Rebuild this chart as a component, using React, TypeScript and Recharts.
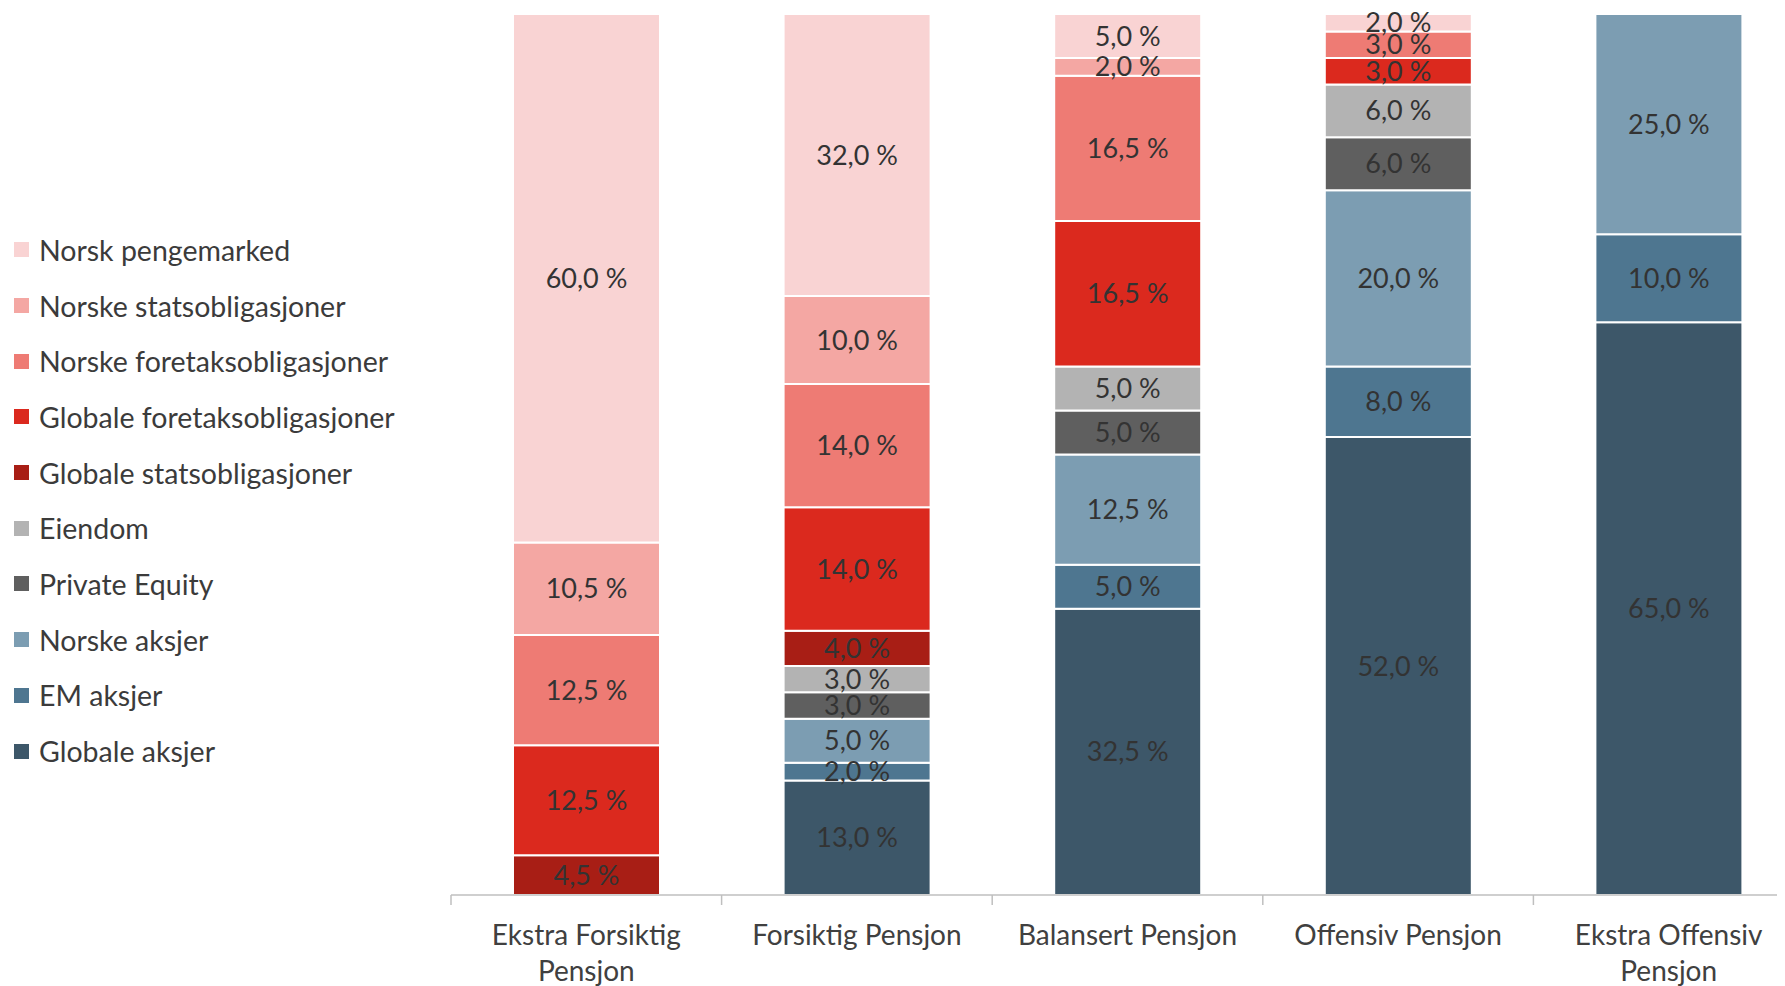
import React from "react"
import { BarChart, Bar, XAxis, YAxis, LabelList } from "recharts"

const categories = [
  "Ekstra Forsiktig Pensjon",
  "Forsiktig Pensjon",
  "Balansert Pensjon",
  "Offensiv Pensjon",
  "Ekstra Offensiv Pensjon",
]

// series, listed bottom of stack first
const globaleAksjer = [0, 13, 32.5, 52, 65]
const emAksjer = [0, 2, 5, 8, 10]
const norskeAksjer = [0, 5, 12.5, 20, 25]
const privateEquity = [0, 3, 5, 6, 0]
const eiendom = [0, 3, 5, 6, 0]
const globaleStats = [4.5, 4, 0, 0, 0]
const globaleForetak = [12.5, 14, 16.5, 3, 0]
const norskeForetak = [12.5, 14, 16.5, 3, 0]
const norskeStats = [10.5, 10, 2, 0, 0]
const norskPengemarked = [60, 32, 5, 2, 0]

const series = [
  { key: "ga", name: "Globale aksjer", values: globaleAksjer, color: "#3D5769" },
  { key: "em", name: "EM aksjer", values: emAksjer, color: "#4E7690" },
  { key: "na", name: "Norske aksjer", values: norskeAksjer, color: "#7C9DB2" },
  { key: "pe", name: "Private Equity", values: privateEquity, color: "#5F5F5F" },
  { key: "ei", name: "Eiendom", values: eiendom, color: "#B3B3B3" },
  { key: "gs", name: "Globale statsobligasjoner", values: globaleStats, color: "#A81E15" },
  { key: "gf", name: "Globale foretaksobligasjoner", values: globaleForetak, color: "#DB291E" },
  { key: "nf", name: "Norske foretaksobligasjoner", values: norskeForetak, color: "#EE7B74" },
  { key: "ns", name: "Norske statsobligasjoner", values: norskeStats, color: "#F4A7A3" },
  { key: "np", name: "Norsk pengemarked", values: norskPengemarked, color: "#F9D3D3" },
]

const data = categories.map((c, i) => {
  const row: Record<string, any> = { name: c }
  series.forEach((s) => (row[s.key] = s.values[i]))
  return row
})

const FONT = "Lato, 'Open Sans', sans-serif"
const W = 1796
const H = 978
const AXIS_H = 91
const M = { top: 6, right: 0, left: 443, bottom: 0 }
const AXIS_Y = H - AXIS_H
const BAND = (W - M.left - M.right) / categories.length

const fmt = (v: any) => (v ? `${Number(v).toFixed(1).replace(".", ",")} %` : "")

function Tick(props: any) {
  const { x, payload } = props
  const words = String(payload.value).split(" ")
  const lines = words.length > 2 ? [words.slice(0, 2).join(" "), words.slice(2).join(" ")] : [words.join(" ")]
  return (
    <g>
      <line x1={x - BAND / 2} y1={AXIS_Y} x2={x - BAND / 2} y2={AXIS_Y + 10} stroke="#BFBFBF" strokeWidth={1.5} />
      {lines.map((l, i) => (
        <text
          key={i}
          x={x}
          y={AXIS_Y + 39 + i * 36}
          textAnchor="middle"
          dominantBaseline="central"
          fontFamily={FONT}
          fontSize={28}
          fill="#404040"
        >
          {l}
        </text>
      ))}
    </g>
  )
}

function LegendBox() {
  const items = [...series].reverse()
  return (
    <div style={{ position: "absolute", left: 6, top: 214, fontFamily: FONT, fontSize: 28.5, color: "#3b3b3b" }}>
      {items.map((s) => (
        <div key={s.key} style={{ height: 55.7, display: "flex", alignItems: "center" }}>
          <span style={{ width: 15, height: 15, background: s.color, display: "inline-block", marginRight: 10 }} />
          <span>{s.name}</span>
        </div>
      ))}
    </div>
  )
}

export default function App() {
  return (
    <div style={{ position: "relative", width: 1777, height: H, overflow: "hidden" }}>
      <BarChart width={W} height={H} data={data} margin={M} barSize={147}>
        <XAxis
          dataKey="name"
          axisLine={{ stroke: "#BFBFBF", strokeWidth: 1.5 }}
          tickLine={false}
          tick={<Tick />}
          height={AXIS_H}
          interval={0}
        />
        <YAxis hide domain={[0, 100]} />
        {series.map((s) => (
          <Bar
            key={s.key}
            dataKey={s.key}
            name={s.name}
            stackId="a"
            fill={s.color}
            stroke="#fff"
            strokeWidth={2}
            isAnimationActive={false}
          >
            <LabelList
              dataKey={s.key}
              position="center"
              formatter={fmt}
              fontFamily={FONT}
              fontSize={27}
              fill="#333"
            />
          </Bar>
        ))}
      </BarChart>
      <LegendBox />
    </div>
  )
}
